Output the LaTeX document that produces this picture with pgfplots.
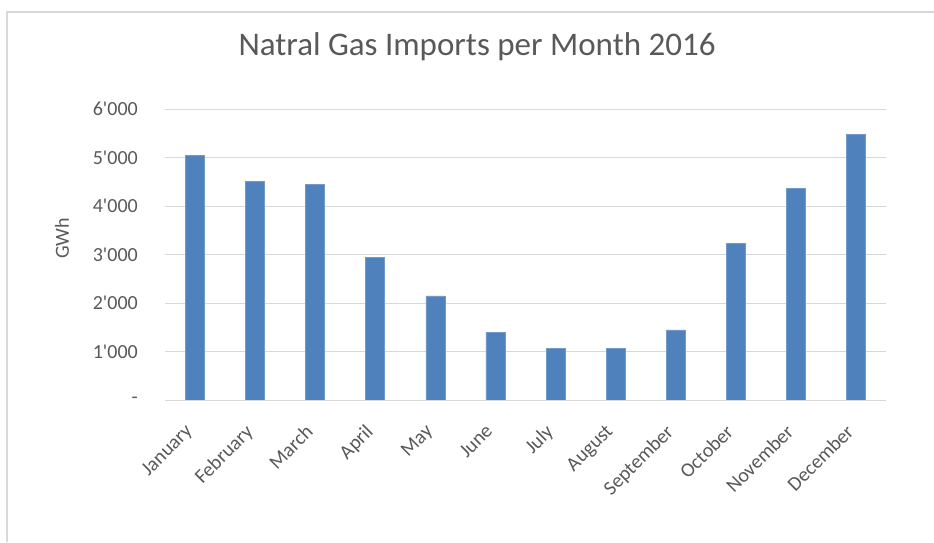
\documentclass[border=0pt]{standalone}
\usepackage{pgfplots}
\pgfplotsset{compat=1.18}
\usepackage{fontspec}
\setmainfont{Carlito}[Ligatures=TeXOff]
\definecolor{barblue}{HTML}{4F81BD}
\definecolor{gridgray}{HTML}{D9D9D9}
\definecolor{txtgray}{HTML}{595959}
\begin{document}
\begin{tikzpicture}[x=1pt,y=1pt]
\useasboundingbox (0,0) rectangle (934,542);
\fill[white] (0,0) rectangle (934,542);
\draw[gridgray, line width=1.5pt] (7,0) -- (7,530) -- (934,530);
\node[txtgray, font=\fontsize{33}{38}\selectfont] at (477,495) {Natral Gas Imports per Month 2016};
\begin{axis}[
  at={(165pt,142pt)}, anchor=south west,
  scale only axis, width=721pt, height=291pt,
  xmin=-0.5, xmax=11.5, ymin=0, ymax=6000,
  ybar, bar width=19pt,
  xtick={0,...,11},
  xticklabels={January,February,March,April,May,June,July,August,September,October,November,December},
  xticklabel style={font=\fontsize{20}{24}\selectfont, text=txtgray, inner sep=0pt, xshift=-11pt, yshift=-23pt, rotate=45, anchor=north east},
  ytick={0,1000,...,6000},
  yticklabels={-\hspace{13pt},1'000,2'000,3'000,4'000,5'000,6'000},
  yticklabel style={font=\fontsize{20}{24}\selectfont, text=txtgray, anchor=east, inner sep=0pt, xshift=-27pt},
  ylabel={GWh},
  every axis y label/.style={at={(axis description cs:0,0.5)}, xshift=-103pt, yshift=16pt, rotate=90, anchor=center, font=\fontsize{20}{24}\selectfont, text=txtgray},
  ymajorgrids, grid style={gridgray, line width=1pt},
  axis line style={draw=none},
  tick style={draw=none},
  major tick length=0pt,
  clip=false,
]
\addplot[fill=barblue, draw=barblue!80!white, line width=0.6pt] coordinates {
(0,5040) (1,4505) (2,4438) (3,2945) (4,2146) (5,1397) (6,1067) (7,1067) (8,1445) (9,3234) (10,4369) (11,5470)};
\draw[gridgray, line width=1pt] (axis cs:-0.5,0) -- (axis cs:11.5,0);
\end{axis}
\end{tikzpicture}
\end{document}
